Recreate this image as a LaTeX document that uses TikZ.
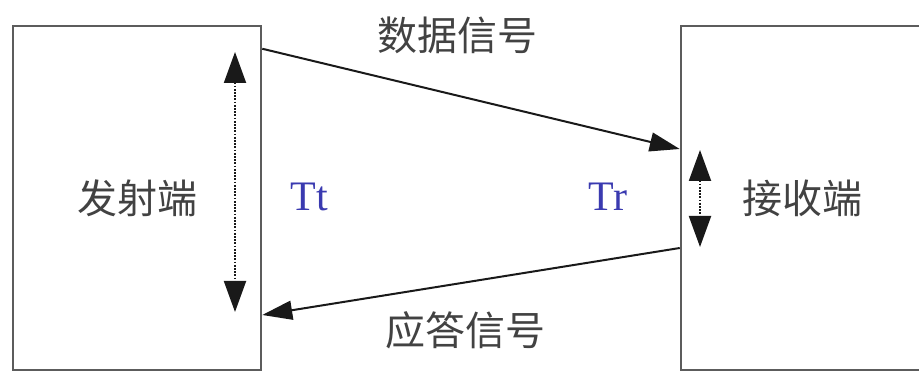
\documentclass[tikz,border=0pt]{standalone}
\usepackage{fontspec}
\setmainfont{Liberation Serif}
\newfontfamily\cjk{Noto Sans CJK SC}
\usetikzlibrary{arrows.meta}

\definecolor{boxgray}{HTML}{5C5C5C}
\definecolor{textgray}{HTML}{424242}
\definecolor{timeblue}{HTML}{3A3AB0}

\begin{document}
\begin{tikzpicture}[
    x=1pt, y=-1pt,
    box/.style = {
        draw=boxgray,
        line width=2.5pt,
        minimum height=344pt,
        inner sep=0pt,
        font=\cjk\fontsize{40}{44}\selectfont,
        text=textgray
    },
    sig/.style = {
        inner sep=0pt,
        font=\cjk\fontsize{40}{44}\selectfont,
        text=textgray
    },
    tlabel/.style = {
        inner sep=0pt,
        font=\fontsize{42}{46}\selectfont,
        text=timeblue
    },
    arrow/.style = {-{Triangle[length=30pt, width=19pt]}, line width=2pt, black!90},
    span/.style = {{Triangle[length=31pt, width=22pt]}-{Triangle[length=31pt, width=22pt]},
        line width=2pt, dash pattern=on 1.8pt off 1.4pt, black!90}
]

\useasboundingbox (0,0) rectangle (919,371);

%% ── Nodes ──────────────────────────────────────────────────────────────────

\node[box, minimum width=248pt] (sender)   at (137,198) {发射端};
\node[box, minimum width=242pt] (receiver) at (802,198) {接收端};

\node[sig]    (datalbl) at (457,35)  {数据信号};
\node[sig]    (acklbl)  at (465,330) {应答信号};
\node[tlabel] (tt)      at (309,197) {Tt};
\node[tlabel] (tr)      at (608,197) {Tr};

%% ── Signals ────────────────────────────────────────────────────────────────

\draw[arrow] ([yshift=-24pt]sender.north east) -- ([yshift=49pt]receiver.west);
\draw[arrow] ([yshift=-50pt]receiver.west) -- ([yshift=-117pt]sender.east);

%% ── Time spans ─────────────────────────────────────────────────────────────

\coordinate (tttop) at (235,52);
\coordinate (ttbot) at (235,312);
\coordinate (trtop) at (700,150);
\coordinate (trbot) at (700,247);

\draw[span] (tttop) -- (ttbot);
\draw[span] (trtop) -- (trbot);

\end{tikzpicture}
\end{document}
